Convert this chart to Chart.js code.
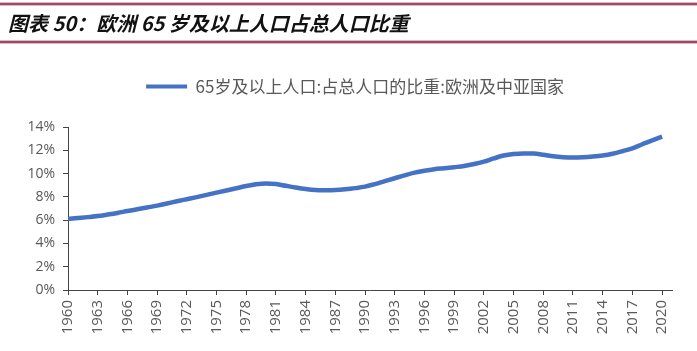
<!DOCTYPE html>
<html>
<head>
<meta charset="utf-8">
<script src="https://cdn.jsdelivr.net/npm/chart.js@4.4.1/dist/chart.umd.min.js"></script>
<style>
  html, body { margin: 0; padding: 0; background: #fff; }
  #wrap { position: relative; width: 697px; height: 351px; overflow: hidden; }
  #head { position: absolute; left: 0; top: 0; width: 697px; height: 46px; }
  .rule { position: absolute; left: 0; width: 697px; height: 2px; background: #9e4a67; box-shadow: 0 1px 0 #e2b6c4, 0 -1px 0 #e2b6c4; }
  #title { position: absolute; left: 8px; top: 11px; font-family: "Noto Sans CJK SC", sans-serif; font-weight: bold; font-style: italic; font-size: 20px; line-height: 24px; color: #111; white-space: nowrap; }
  #c { position: absolute; left: 0; top: 0; }
</style>
</head>
<body>
<div id="wrap">
  <canvas id="c" width="697" height="351"></canvas>
  <div id="head">
    <div class="rule" style="top:3px"></div>
    <div id="title">图表 50：欧洲 65 岁及以上人口占总人口比重</div>
    <div class="rule" style="top:41px"></div>
  </div>
</div>
<script>
// years and share of population aged 65+ (%)
const years = [];
for (let y = 1960; y <= 2020; y++) years.push(y);

const share65 = [
  6.10, 6.18, 6.26, 6.35, 6.48, 6.62, 6.78, 6.93, 7.09, 7.25,
  7.43, 7.62, 7.80, 7.98, 8.17, 8.36, 8.55, 8.74, 8.93, 9.08,
  9.15, 9.10, 8.95, 8.80, 8.67, 8.58, 8.56, 8.58, 8.65, 8.75,
  8.88, 9.10, 9.35, 9.60, 9.85, 10.08, 10.25, 10.38, 10.46, 10.55,
  10.65, 10.82, 11.02, 11.30, 11.55, 11.68, 11.73, 11.72, 11.62, 11.48,
  11.40, 11.37, 11.40, 11.46, 11.55, 11.70, 11.92, 12.17, 12.52, 12.85,
  13.17
];

const seriesName = '65岁及以上人口:占总人口的比重:欧洲及中亚国家';
const yTicks = [0, 2, 4, 6, 8, 10, 12, 14];

const blue = '#4472c4';
const grey = '#595959';

// push the plot area down below the legend, and centre the legend over the plot
const legendGap = {
  id: 'legendGap',
  beforeInit(chart) {
    const fit = chart.legend.fit;
    chart.legend.fit = function() {
      fit.call(this);
      this.height += 22;
    };
  },
  afterLayout(chart) {
    chart.legend.left += 38;
  }
};

const ctx = document.getElementById('c').getContext('2d');
new Chart(ctx, {
  type: 'line',
  data: {
    datasets: [{
      label: seriesName,
      data: years.map((y, i) => ({ x: y, y: share65[i] })),
      borderColor: blue,
      backgroundColor: blue,
      borderWidth: 4.5,
      pointRadius: 0,
      tension: 0.4,
      cubicInterpolationMode: 'monotone',
      fill: false
    }]
  },
  options: {
    responsive: false,
    animation: false,
    layout: { padding: { top: 74, right: 25, bottom: 0, left: 0 } },
    plugins: {
      tooltip: { enabled: false },
      legend: {
        position: 'top',
        labels: {
          color: grey,
          font: { family: '"Noto Sans CJK SC", sans-serif', size: 17 },
          boxWidth: 41,
          boxHeight: 4,
          padding: 4,
          generateLabels: function(chart) {
            return [{
              text: seriesName,
              fillStyle: blue,
              strokeStyle: blue,
              lineWidth: 0,
              fontColor: grey,
              datasetIndex: 0
            }];
          }
        }
      }
    },
    scales: {
      x: {
        type: 'linear',
        min: 1960,
        max: 2021,
        afterBuildTicks: function(scale) {
          scale.ticks = years.filter(y => (y - 1960) % 3 === 0).map(v => ({ value: v }));
        },
        afterFit: function(scale) { scale.height = 61; },
        ticks: {
          color: grey,
          font: { family: '"Open Sans", sans-serif', size: 15 },
          autoSkip: false,
          maxRotation: 90,
          minRotation: 90,
          padding: 5,
          callback: v => String(v)
        },
        grid: { display: true, drawOnChartArea: false, drawTicks: true, tickLength: 5, color: '#444' },
        border: { display: true, color: '#444', width: 1 }
      },
      y: {
        min: 0,
        max: 14,
        afterBuildTicks: function(scale) {
          scale.ticks = yTicks.map(v => ({ value: v }));
        },
        afterFit: function(scale) { scale.width = 68; },
        ticks: {
          color: grey,
          font: { family: '"Open Sans", sans-serif', size: 14 },
          padding: 8,
          callback: v => v + '%'
        },
        grid: { display: true, drawOnChartArea: false, drawTicks: true, tickLength: 5, color: '#444' },
        border: { display: true, color: '#444', width: 1 }
      }
    }
  },
  plugins: [legendGap]
});
</script>
</body>
</html>
